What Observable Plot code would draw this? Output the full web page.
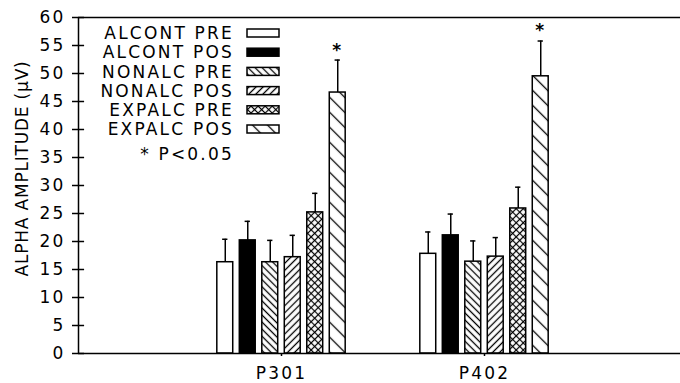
<!DOCTYPE html>
<html><head><meta charset="utf-8">
<script src="https://cdn.jsdelivr.net/npm/d3@7"></script>
<script src="https://cdn.jsdelivr.net/npm/@observablehq/plot@0.6"></script>
<style>
body{margin:0;background:#fff;}
svg{font-family:"DejaVu Sans",sans-serif;}
svg text{letter-spacing:2.2px;}
svg text.ylab{letter-spacing:0.8px;}
</style>
</head><body><div id="chart"></div>
<script>
// ---- data ----
const groups = ["P301", "P402"];
const series = ["ALCONT PRE", "ALCONT POS", "NONALC PRE", "NONALC POS", "EXPALC PRE", "EXPALC POS"];
const p301Mean  = [16.3, 20.2, 16.3, 17.2, 25.2, 46.6];
const p301Upper = [20.4, 23.6, 20.2, 21.1, 28.6, 52.4];
const p402Mean  = [17.8, 21.1, 16.4, 17.3, 25.9, 49.5];
const p402Upper = [21.7, 24.9, 20.1, 20.7, 29.7, 55.8];
const p301Sig = [false, false, false, false, false, true];
const p402Sig = [false, false, false, false, false, true];
const yTicks = [0, 5, 10, 15, 20, 25, 30, 35, 40, 45, 50, 55, 60];
const sigNote = "* P<0.05";
const yLabel = "ALPHA AMPLITUDE (μV)";

// ---- layout / style ----
const STEP = 0.1108, HALF = 0.0392, CAP = 0.013;
const fillFor = {
  "ALCONT PRE": "white", "ALCONT POS": "black",
  "NONALC PRE": "url(#pNonPre)", "NONALC POS": "url(#pNonPos)",
  "EXPALC PRE": "url(#pExpPre)", "EXPALC POS": "url(#pExpPos)"
};
const means = [p301Mean, p402Mean], uppers = [p301Upper, p402Upper], sigs = [p301Sig, p402Sig];
const rows = [];
groups.forEach((g, gi) => series.forEach((s, si) => rows.push({
  group: g, series: s, pos: gi + 1 + (si - 2.5) * STEP,
  mean: means[gi][si], upper: uppers[gi][si], sig: sigs[gi][si]
})));

const chart = Plot.plot({
  width: 680, height: 383,
  marginLeft: 78, marginTop: 17, marginBottom: 30, marginRight: 0,
  style: {fontFamily: "DejaVu Sans", fontSize: "17px", color: "black", background: "white"},
  x: {domain: [0, 3], range: [78, 687], axis: null},
  y: {domain: [0, 60], range: [353, 17], axis: null},
  color: {type: "identity"},
  marks: [
    Plot.rectY(rows, {x1: d => d.pos - HALF, x2: d => d.pos + HALF, y1: 0, y2: "mean",
      fill: d => fillFor[d.series], stroke: "black", strokeWidth: 1.5}),
    Plot.ruleX(rows, {x: "pos", y1: "mean", y2: "upper", strokeWidth: 1.5}),
    Plot.ruleY(rows, {y: "upper", x1: d => d.pos - CAP, x2: d => d.pos + CAP, strokeWidth: 1.5}),
    Plot.text(rows.filter(d => d.sig), {x: "pos", y: "upper", text: () => "*", dy: -10, fontSize: 17, fontWeight: "bold"}),
    Plot.ruleY([0, 60], {strokeWidth: 1.5}),
    Plot.ruleX([0], {strokeWidth: 1.5}),
    Plot.axisY({ticks: yTicks, tickSize: 6, tickPadding: 7, strokeWidth: 1.5, fontSize: 17, label: null}),
    Plot.ruleY(yTicks, {x1: 0, x2: 0.03, strokeWidth: 1.5}),
    Plot.axisX({ticks: [1, 2], tickFormat: i => groups[i - 1], tickSize: 3, tickPadding: 10, strokeWidth: 1.5, fontSize: 17, label: null}),
    Plot.text([yLabel], {frameAnchor: "left", textAnchor: "middle", rotate: -90, dx: -56, dy: -17, fontSize: 17})
  ]
});

const svg = d3.select(chart);
svg.selectAll("text").filter(function() { return this.textContent === yLabel; }).classed("ylab", true);
const defs = svg.insert("defs", ":first-child");
function hatch(id, size, angle, cross, sw) {
  const p = defs.append("pattern").attr("id", id).attr("patternUnits", "userSpaceOnUse")
    .attr("width", size).attr("height", size).attr("patternTransform", `rotate(${angle})`);
  p.append("rect").attr("width", size).attr("height", size).attr("fill", "white");
  p.append("line").attr("x1", size / 2).attr("x2", size / 2).attr("y1", 0).attr("y2", size)
    .attr("stroke", "black").attr("stroke-width", sw);
  if (cross) p.append("line").attr("y1", size / 2).attr("y2", size / 2).attr("x1", 0).attr("x2", size)
    .attr("stroke", "black").attr("stroke-width", sw);
}
hatch("pNonPre", 5, -45, false, 1.3);
hatch("pNonPos", 5, 45, false, 1.3);
hatch("pExpPre", 5, 45, true, 1.2);
hatch("pExpPos", 10.6, -45, false, 1.3);

// legend inside the plot
const lg = svg.append("g").attr("font-size", 17).attr("fill", "black");
series.forEach((s, i) => {
  const cy = 33 + i * 19.2;
  lg.append("text").attr("x", 234).attr("y", cy).attr("dy", "0.36em").attr("text-anchor", "end").text(s);
  lg.append("rect").attr("x", 247).attr("y", cy - 4).attr("width", 32).attr("height", 8)
    .attr("fill", fillFor[s]).attr("stroke", "black").attr("stroke-width", 1.5);
});
lg.append("text").attr("x", 234).attr("y", 154).attr("dy", "0.36em").attr("text-anchor", "end").text(sigNote);

document.getElementById("chart").appendChild(chart);
</script>
</body></html>
